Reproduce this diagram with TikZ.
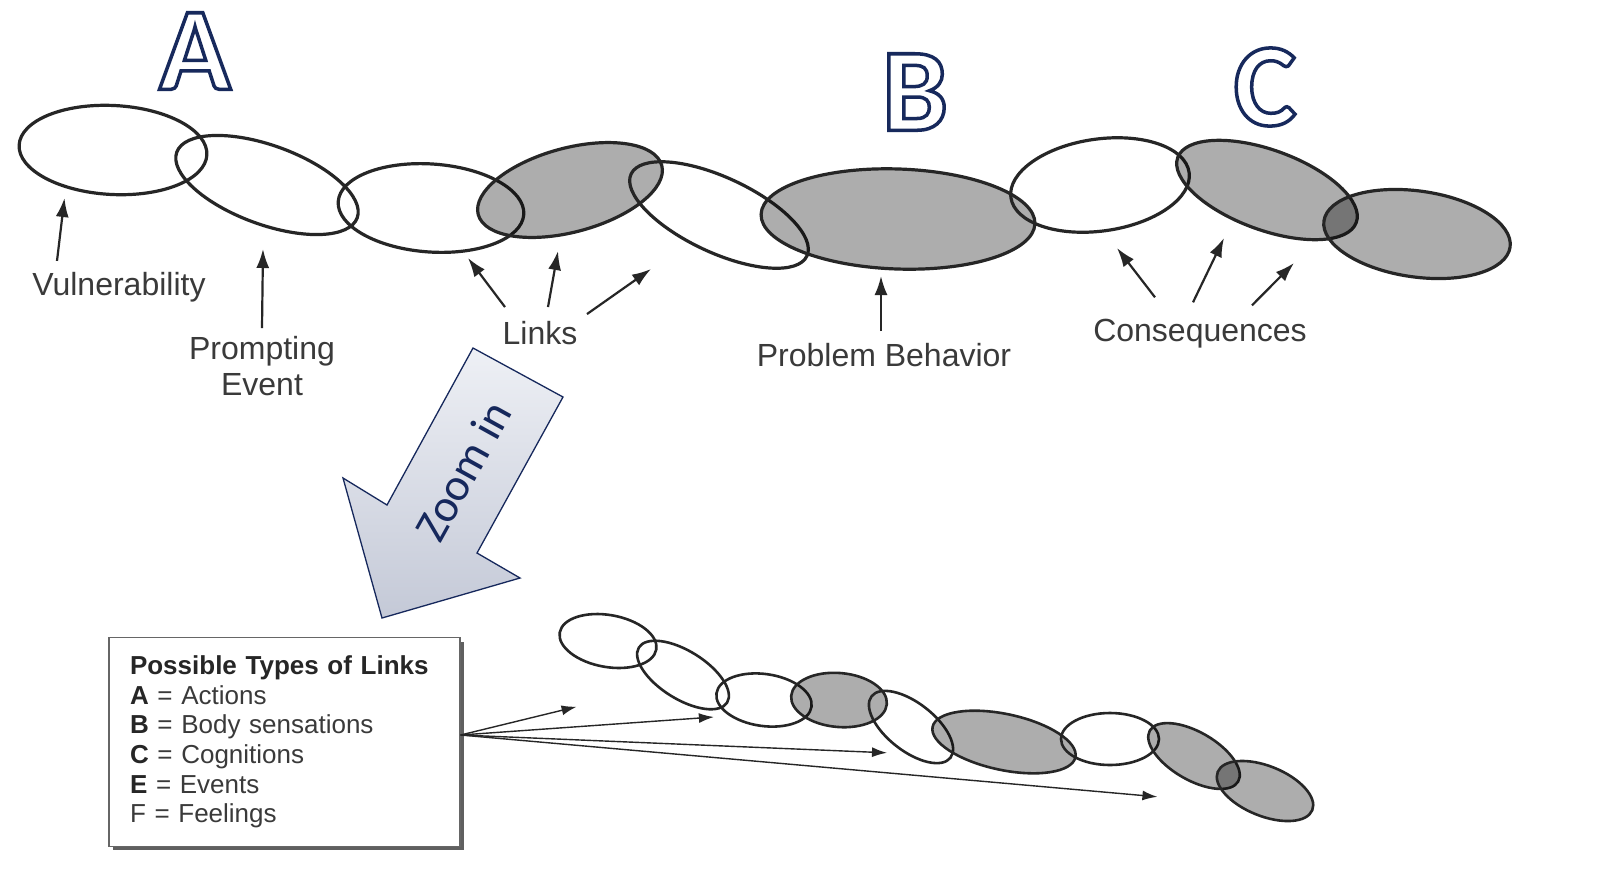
\documentclass[tikz,border=0pt]{standalone}
\usepackage{fontspec}
\setmainfont{Liberation Sans}
\newfontfamily\zoomfont{Carlito}
\newfontfamily\letterfont{Carlito Bold}
\usetikzlibrary{shapes.geometric,arrows.meta,shadows}

\definecolor{inkgray}{RGB}{58,58,58}
\definecolor{chaingray}{RGB}{38,38,38}
\definecolor{navyline}{RGB}{22,40,92}
\definecolor{zoomtop}{RGB}{238,240,245}
\definecolor{zoombot}{RGB}{196,201,215}

\newcommand{\bigletter}[1]{{\letterfont\fontsize{118}{118}\selectfont\special{pdf:literal direct 2 Tr 3.5 w 0.09 0.16 0.36 RG}#1\special{pdf:literal direct 0 Tr}}}
\newcommand{\key}[1]{\textcolor{black!85}{\textbf{#1}}}

\tikzset{
  ring/.style={ellipse, draw=chaingray, line width=3.2pt, inner sep=0pt},
  dark ring/.style={ring, fill=black, fill opacity=0.32},
  small ring/.style={ring, line width=2.6pt},
  small dark ring/.style={dark ring, line width=2.6pt},
  tag/.style={text=inkgray, font=\fontsize{32}{36}\selectfont, align=center, inner sep=8pt},
  pointer/.style={draw=chaingray, line width=2.2pt, -{Latex[length=19pt,width=13pt]}},
  fanarrow/.style={draw=chaingray, line width=1.4pt, -{Latex[length=15pt,width=10pt]}},
  legendbox/.style={draw=gray!80!black, line width=1.2pt, fill=white,
    drop shadow={shadow xshift=4pt, shadow yshift=-4pt, fill=gray!75!black, opacity=1},
    text width=309pt, inner xsep=21pt, inner ysep=18pt, align=left,
    font=\fontsize{26}{29.6}\selectfont, text=inkgray},
}

\begin{document}
\begin{tikzpicture}[x=1pt,y=-1pt]
\useasboundingbox[fill=white] (0,0) rectangle (1606,879);

\node[ring, minimum width=188pt, minimum height=89pt, rotate=-3] (v) at (113,150) {};
\node[ring, minimum width=192pt, minimum height=79pt, rotate=-20] (p) at (267,185) {};
\node[ring, minimum width=186pt, minimum height=88pt, rotate=-4] (l1) at (431,208) {};
\node[dark ring, minimum width=190pt, minimum height=84pt, rotate=15] (l2) at (570,190) {};
\node[ring, minimum width=194pt, minimum height=75pt, rotate=-25] (l3) at (719,215) {};
\node[dark ring, minimum width=274pt, minimum height=100pt, rotate=-2] (pb-ring) at (898,219) {};
\node[ring, minimum width=180pt, minimum height=92pt, rotate=8] (c1) at (1100,185) {};
\node[dark ring, minimum width=190pt, minimum height=80pt, rotate=-20] (c2) at (1267,190) {};
\node[dark ring, minimum width=188pt, minimum height=86pt, rotate=-8] (c3) at (1417,234) {};

\node[inner sep=0pt, text=white] (ltr-a) at (195,51) {\bigletter{A}};
\node[inner sep=0pt, text=white] (ltr-b) at (915,92) {\bigletter{B}};
\node[inner sep=0pt, text=white] (ltr-c) at (1265,87) {\bigletter{C}};

\coordinate (vul-tip) at (64.5,198);
\coordinate (prompt-tip) at (263,249);
\coordinate (links-tip-a) at (468,258);
\coordinate (links-tip-b) at (558,251);
\coordinate (links-tip-c) at (651,269);
\coordinate (pb-tip) at (881,276);
\coordinate (cons-tip-a) at (1117,248);
\coordinate (cons-tip-b) at (1224,238);
\coordinate (cons-tip-c) at (1294,263);

\node[tag] (vul) at (119,287) {Vulnerability};
\node[tag] (prompt) at (262,366) {Prompting\\Event};
\node[tag] (links) at (540,333) {Links};
\node[tag] (pb) at (884,355) {Problem Behavior};
\node[tag] (cons) at (1200,334) {Consequences};

\draw[pointer] ([xshift=-62pt,yshift=3pt]vul.north) -- (vul-tip);
\draw[pointer] (prompt.north) -- (prompt-tip);
\draw[pointer] ([xshift=-35pt,yshift=6pt]links.north) -- (links-tip-a);
\draw[pointer] ([xshift=8pt,yshift=6pt]links.north) -- (links-tip-b);
\draw[pointer] ([xshift=47pt,yshift=-1pt]links.north) -- (links-tip-c);
\draw[pointer] ([xshift=-3pt,yshift=4pt]pb.north) -- (pb-tip);
\draw[pointer] ([xshift=-45pt,yshift=14pt]cons.north) -- (cons-tip-a);
\draw[pointer] ([xshift=-7pt,yshift=9pt]cons.north) -- (cons-tip-b);
\draw[pointer] ([xshift=52pt,yshift=6pt]cons.north) -- (cons-tip-c);

\shade[top color=zoomtop, bottom color=zoombot, draw=navyline, line width=1.3pt]
  (473,348) -- (563,397) -- (477,553) -- (520,578) -- (382,618) -- (343,478) -- (387,505) -- cycle;
\node[rotate=61, font=\zoomfont\fontsize{46}{46}\selectfont, text=navyline] (zoom) at (463,471) {Zoom in};

\node[small ring, minimum width=98pt, minimum height=52pt, rotate=-10] (s1) at (608,641) {};
\node[small ring, minimum width=104pt, minimum height=48pt, rotate=-32] (s2) at (683,675) {};
\node[small ring, minimum width=96pt, minimum height=52pt, rotate=-8] (s3) at (764,700) {};
\node[small dark ring, minimum width=96pt, minimum height=54pt, rotate=-5] (s4) at (839,700) {};
\node[small ring, minimum width=100pt, minimum height=48pt, rotate=-38] (s5) at (911,727) {};
\node[small dark ring, minimum width=146pt, minimum height=56pt, rotate=-12] (s6) at (1004,742) {};
\node[small ring, minimum width=98pt, minimum height=52pt, rotate=0] (s7) at (1110,739) {};
\node[small dark ring, minimum width=102pt, minimum height=48pt, rotate=-30] (s8) at (1194,756) {};
\node[small dark ring, minimum width=102pt, minimum height=50pt, rotate=-22] (s9) at (1265,791) {};

\node[legendbox] (legend) at (284.5,742) {\key{Possible Types of Links}\\
\key{A} = Actions\\
\key{B} = Body sensations\\
\key{C} = Cognitions\\
\key{E} = Events\\
F = Feelings};

\coordinate (fan-a) at (576.6,706.7);
\coordinate (fan-b) at (713.9,717);
\coordinate (fan-c) at (887,752.8);
\coordinate (fan-d) at (1157.4,796.8);
\draw[fanarrow] ([yshift=7pt]legend.east) -- (fan-a);
\draw[fanarrow] ([yshift=7pt]legend.east) -- (fan-b);
\draw[fanarrow] ([yshift=7pt]legend.east) -- (fan-c);
\draw[fanarrow] ([yshift=7pt]legend.east) -- (fan-d);
\end{tikzpicture}
\end{document}
